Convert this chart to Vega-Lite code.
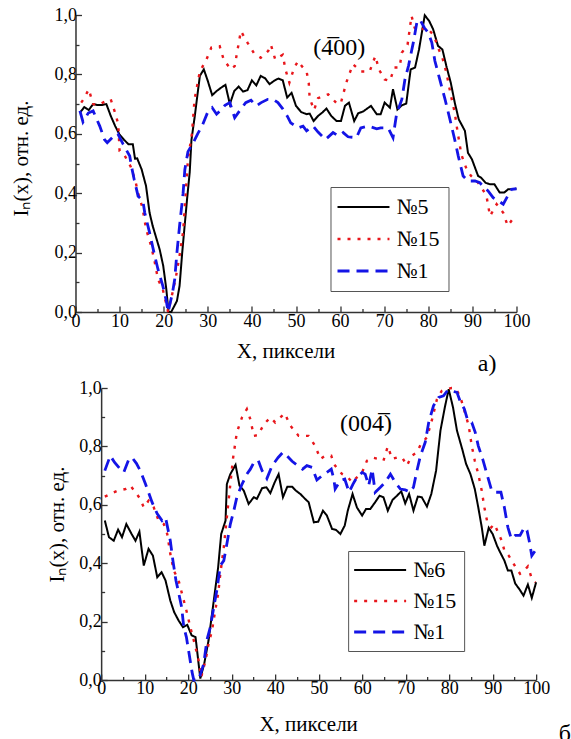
{
  "$schema": "https://vega.github.io/schema/vega-lite/v6.json",
  "padding": {"left": 10, "top": 6, "right": 0, "bottom": 0},
  "spacing": 3,
  "center": true,
  "background": "white",
  "config": {
    "font": "Liberation Serif",
    "style": {"guide-label": {"font": "Liberation Serif"}, "guide-title": {"font": "Liberation Serif"}}
  },
  "datasets": {
    "a": [
      {"s":"№5","x":1,"y":0.671},{"s":"№5","x":2,"y":0.69},{"s":"№5","x":3,"y":0.68},{"s":"№5","x":4,"y":0.70},{"s":"№5","x":5,"y":0.697},{"s":"№5","x":6,"y":0.697},{"s":"№5","x":7,"y":0.70},{"s":"№5","x":8,"y":0.66},{"s":"№5","x":9,"y":0.626},{"s":"№5","x":10,"y":0.597},{"s":"№5","x":11,"y":0.58},{"s":"№5","x":12,"y":0.565},{"s":"№5","x":13,"y":0.565},{"s":"№5","x":13.5,"y":0.516},{"s":"№5","x":14,"y":0.517},{"s":"№5","x":15,"y":0.48},{"s":"№5","x":16,"y":0.424},{"s":"№5","x":16.8,"y":0.334},{"s":"№5","x":17.5,"y":0.29},{"s":"№5","x":18.3,"y":0.25},{"s":"№5","x":19.1,"y":0.21},{"s":"№5","x":19.9,"y":0.155},{"s":"№5","x":20.6,"y":0.076},{"s":"№5","x":21.1,"y":0.0},{"s":"№5","x":21.7,"y":0.0},{"s":"№5","x":23,"y":0.037},{"s":"№5","x":23.6,"y":0.088},{"s":"№5","x":24.2,"y":0.2},{"s":"№5","x":25.3,"y":0.38},{"s":"№5","x":25.9,"y":0.47},{"s":"№5","x":26.3,"y":0.58},{"s":"№5","x":27,"y":0.654},{"s":"№5","x":28.2,"y":0.795},{"s":"№5","x":29.1,"y":0.817},{"s":"№5","x":30,"y":0.778},{"s":"№5","x":31,"y":0.73},{"s":"№5","x":32,"y":0.744},{"s":"№5","x":33,"y":0.755},{"s":"№5","x":34,"y":0.765},{"s":"№5","x":35,"y":0.70},{"s":"№5","x":36,"y":0.744},{"s":"№5","x":37,"y":0.759},{"s":"№5","x":38,"y":0.742},{"s":"№5","x":39,"y":0.747},{"s":"№5","x":40,"y":0.78},{"s":"№5","x":41,"y":0.763},{"s":"№5","x":42,"y":0.795},{"s":"№5","x":43,"y":0.787},{"s":"№5","x":44,"y":0.767},{"s":"№5","x":45,"y":0.778},{"s":"№5","x":46,"y":0.786},{"s":"№5","x":47,"y":0.78},{"s":"№5","x":48,"y":0.722},{"s":"№5","x":49,"y":0.738},{"s":"№5","x":50,"y":0.694},{"s":"№5","x":51.2,"y":0.673},{"s":"№5","x":52.4,"y":0.666},{"s":"№5","x":53.1,"y":0.668},{"s":"№5","x":54,"y":0.643},{"s":"№5","x":55,"y":0.66},{"s":"№5","x":56,"y":0.672},{"s":"№5","x":56.9,"y":0.685},{"s":"№5","x":58,"y":0.66},{"s":"№5","x":59.2,"y":0.643},{"s":"№5","x":60.2,"y":0.643},{"s":"№5","x":61.1,"y":0.694},{"s":"№5","x":62,"y":0.705},{"s":"№5","x":63.2,"y":0.643},{"s":"№5","x":64.1,"y":0.669},{"s":"№5","x":65.2,"y":0.675},{"s":"№5","x":67,"y":0.694},{"s":"№5","x":68.3,"y":0.666},{"s":"№5","x":69.2,"y":0.666},{"s":"№5","x":70.1,"y":0.705},{"s":"№5","x":71.3,"y":0.688},{"s":"№5","x":72,"y":0.75},{"s":"№5","x":73,"y":0.682},{"s":"№5","x":74,"y":0.696},{"s":"№5","x":75,"y":0.702},{"s":"№5","x":76,"y":0.817},{"s":"№5","x":77,"y":0.823},{"s":"№5","x":77.9,"y":0.884},{"s":"№5","x":79.2,"y":0.999},{"s":"№5","x":80.2,"y":0.98},{"s":"№5","x":81.1,"y":0.952},{"s":"№5","x":82.2,"y":0.896},{"s":"№5","x":83.2,"y":0.884},{"s":"№5","x":84.1,"y":0.828},{"s":"№5","x":85.1,"y":0.772},{"s":"№5","x":86,"y":0.705},{"s":"№5","x":86.9,"y":0.649},{"s":"№5","x":88.3,"y":0.61},{"s":"№5","x":89,"y":0.536},{"s":"№5","x":89.9,"y":0.514},{"s":"№5","x":91.3,"y":0.458},{"s":"№5","x":92,"y":0.452},{"s":"№5","x":93,"y":0.435},{"s":"№5","x":94,"y":0.43},{"s":"№5","x":95,"y":0.43},{"s":"№5","x":96.2,"y":0.402},{"s":"№5","x":97.2,"y":0.402},{"s":"№5","x":98.1,"y":0.413},{"s":"№5","x":100,"y":0.415},
      {"s":"№15","x":1.3,"y":0.705},{"s":"№15","x":2,"y":0.72},{"s":"№15","x":3,"y":0.75},{"s":"№15","x":4,"y":0.70},{"s":"№15","x":5,"y":0.696},{"s":"№15","x":6.2,"y":0.705},{"s":"№15","x":7,"y":0.71},{"s":"№15","x":8,"y":0.716},{"s":"№15","x":9,"y":0.67},{"s":"№15","x":9.7,"y":0.632},{"s":"№15","x":10,"y":0.542},{"s":"№15","x":11,"y":0.531},{"s":"№15","x":12.5,"y":0.49},{"s":"№15","x":13.6,"y":0.44},{"s":"№15","x":14.2,"y":0.40},{"s":"№15","x":15.2,"y":0.35},{"s":"№15","x":16,"y":0.28},{"s":"№15","x":17.2,"y":0.22},{"s":"№15","x":18,"y":0.166},{"s":"№15","x":18.7,"y":0.11},{"s":"№15","x":19.8,"y":0.076},{"s":"№15","x":21,"y":0.0},{"s":"№15","x":22,"y":0.065},{"s":"№15","x":22.8,"y":0.12},{"s":"№15","x":23.6,"y":0.19},{"s":"№15","x":24.4,"y":0.27},{"s":"№15","x":25,"y":0.4},{"s":"№15","x":25.5,"y":0.514},{"s":"№15","x":26.4,"y":0.6},{"s":"№15","x":27,"y":0.716},{"s":"№15","x":28.2,"y":0.81},{"s":"№15","x":29.7,"y":0.85},{"s":"№15","x":30.8,"y":0.89},{"s":"№15","x":32.7,"y":0.895},{"s":"№15","x":33.6,"y":0.85},{"s":"№15","x":35.2,"y":0.817},{"s":"№15","x":36.1,"y":0.828},{"s":"№15","x":37.5,"y":0.946},{"s":"№15","x":39,"y":0.907},{"s":"№15","x":40.6,"y":0.868},{"s":"№15","x":42,"y":0.856},{"s":"№15","x":43.7,"y":0.879},{"s":"№15","x":44.3,"y":0.90},{"s":"№15","x":45.3,"y":0.85},{"s":"№15","x":47,"y":0.866},{"s":"№15","x":47.6,"y":0.817},{"s":"№15","x":48.5,"y":0.772},{"s":"№15","x":49.6,"y":0.823},{"s":"№15","x":50.5,"y":0.845},{"s":"№15","x":51.3,"y":0.828},{"s":"№15","x":52.4,"y":0.81},{"s":"№15","x":52.9,"y":0.77},{"s":"№15","x":53.1,"y":0.72},{"s":"№15","x":54.1,"y":0.68},{"s":"№15","x":55,"y":0.72},{"s":"№15","x":57.3,"y":0.733},{"s":"№15","x":59.4,"y":0.70},{"s":"№15","x":60.2,"y":0.705},{"s":"№15","x":61.4,"y":0.772},{"s":"№15","x":62.9,"y":0.834},{"s":"№15","x":64.8,"y":0.81},{"s":"№15","x":66.7,"y":0.81},{"s":"№15","x":68,"y":0.862},{"s":"№15","x":68.8,"y":0.817},{"s":"№15","x":70.1,"y":0.783},{"s":"№15","x":71.3,"y":0.778},{"s":"№15","x":72.3,"y":0.823},{"s":"№15","x":73.5,"y":0.823},{"s":"№15","x":74,"y":0.873},{"s":"№15","x":75.3,"y":0.90},{"s":"№15","x":76.2,"y":0.997},{"s":"№15","x":76.9,"y":0.957},{"s":"№15","x":78.1,"y":0.946},{"s":"№15","x":79.1,"y":0.957},{"s":"№15","x":80,"y":0.952},{"s":"№15","x":81.3,"y":0.93},{"s":"№15","x":82.2,"y":0.89},{"s":"№15","x":83.2,"y":0.856},{"s":"№15","x":84.1,"y":0.806},{"s":"№15","x":85,"y":0.738},{"s":"№15","x":86,"y":0.671},{"s":"№15","x":86.6,"y":0.61},{"s":"№15","x":87.5,"y":0.53},{"s":"№15","x":88.7,"y":0.48},{"s":"№15","x":89.7,"y":0.458},{"s":"№15","x":91,"y":0.441},{"s":"№15","x":92.1,"y":0.419},{"s":"№15","x":93.2,"y":0.39},{"s":"№15","x":94,"y":0.323},{"s":"№15","x":95.5,"y":0.363},{"s":"№15","x":97,"y":0.334},{"s":"№15","x":98,"y":0.29},{"s":"№15","x":99.4,"y":0.318},{"s":"№15","x":100,"y":0.31},
      {"s":"№1","x":1,"y":0.677},{"s":"№1","x":1.7,"y":0.64},{"s":"№1","x":2.9,"y":0.67},{"s":"№1","x":4,"y":0.677},{"s":"№1","x":5.5,"y":0.626},{"s":"№1","x":6.6,"y":0.58},{"s":"№1","x":7.2,"y":0.57},{"s":"№1","x":8.5,"y":0.59},{"s":"№1","x":9.6,"y":0.60},{"s":"№1","x":10.8,"y":0.565},{"s":"№1","x":12.3,"y":0.525},{"s":"№1","x":12.7,"y":0.49},{"s":"№1","x":13.3,"y":0.447},{"s":"№1","x":14.2,"y":0.39},{"s":"№1","x":15.3,"y":0.374},{"s":"№1","x":15.7,"y":0.334},{"s":"№1","x":16.8,"y":0.267},{"s":"№1","x":17.8,"y":0.2},{"s":"№1","x":18.7,"y":0.144},{"s":"№1","x":19.8,"y":0.088},{"s":"№1","x":20.6,"y":0.037},{"s":"№1","x":21,"y":0.0},{"s":"№1","x":22,"y":0.065},{"s":"№1","x":22.5,"y":0.11},{"s":"№1","x":23,"y":0.2},{"s":"№1","x":23.6,"y":0.29},{"s":"№1","x":24.4,"y":0.40},{"s":"№1","x":24.8,"y":0.48},{"s":"№1","x":25.5,"y":0.54},{"s":"№1","x":26.7,"y":0.57},{"s":"№1","x":27.7,"y":0.60},{"s":"№1","x":28.7,"y":0.626},{"s":"№1","x":29.9,"y":0.67},{"s":"№1","x":31,"y":0.688},{"s":"№1","x":32,"y":0.666},{"s":"№1","x":33,"y":0.68},{"s":"№1","x":33.9,"y":0.696},{"s":"№1","x":35,"y":0.705},{"s":"№1","x":36.1,"y":0.654},{"s":"№1","x":37.2,"y":0.677},{"s":"№1","x":38.6,"y":0.705},{"s":"№1","x":39.8,"y":0.713},{"s":"№1","x":41,"y":0.694},{"s":"№1","x":42.1,"y":0.705},{"s":"№1","x":43.6,"y":0.716},{"s":"№1","x":44.8,"y":0.716},{"s":"№1","x":45.9,"y":0.705},{"s":"№1","x":47,"y":0.684},{"s":"№1","x":48,"y":0.66},{"s":"№1","x":48.8,"y":0.637},{"s":"№1","x":50.5,"y":0.62},{"s":"№1","x":51.6,"y":0.626},{"s":"№1","x":52.4,"y":0.61},{"s":"№1","x":53.9,"y":0.626},{"s":"№1","x":55,"y":0.606},{"s":"№1","x":56.7,"y":0.581},{"s":"№1","x":58.4,"y":0.604},{"s":"№1","x":59.6,"y":0.593},{"s":"№1","x":60.7,"y":0.604},{"s":"№1","x":61.8,"y":0.59},{"s":"№1","x":63.7,"y":0.587},{"s":"№1","x":64.7,"y":0.62},{"s":"№1","x":66.4,"y":0.626},{"s":"№1","x":68.3,"y":0.617},{"s":"№1","x":69.2,"y":0.62},{"s":"№1","x":70.9,"y":0.62},{"s":"№1","x":72,"y":0.587},{"s":"№1","x":72.8,"y":0.666},{"s":"№1","x":74,"y":0.716},{"s":"№1","x":74.7,"y":0.783},{"s":"№1","x":75.5,"y":0.828},{"s":"№1","x":76.6,"y":0.907},{"s":"№1","x":77.4,"y":0.974},{"s":"№1","x":78.1,"y":0.985},{"s":"№1","x":79.1,"y":0.957},{"s":"№1","x":80,"y":0.94},{"s":"№1","x":80.8,"y":0.907},{"s":"№1","x":81.5,"y":0.845},{"s":"№1","x":82.6,"y":0.783},{"s":"№1","x":83.8,"y":0.716},{"s":"№1","x":84.9,"y":0.649},{"s":"№1","x":86,"y":0.58},{"s":"№1","x":86.8,"y":0.525},{"s":"№1","x":87.9,"y":0.458},{"s":"№1","x":89,"y":0.441},{"s":"№1","x":90.6,"y":0.441},{"s":"№1","x":91.7,"y":0.435},{"s":"№1","x":92.4,"y":0.424},{"s":"№1","x":93.6,"y":0.407},{"s":"№1","x":94.7,"y":0.385},{"s":"№1","x":95.9,"y":0.374},{"s":"№1","x":97,"y":0.363},{"s":"№1","x":97.8,"y":0.385},{"s":"№1","x":98.9,"y":0.413},{"s":"№1","x":100,"y":0.415}
    ],
    "b": [
      {"s":"№6","x":0.85,"y":0.546},{"s":"№6","x":1.8,"y":0.489},{"s":"№6","x":2.9,"y":0.477},{"s":"№6","x":3.9,"y":0.515},{"s":"№6","x":4.8,"y":0.489},{"s":"№6","x":5.8,"y":0.534},{"s":"№6","x":7,"y":0.50},{"s":"№6","x":7.9,"y":0.477},{"s":"№6","x":8.8,"y":0.508},{"s":"№6","x":9.8,"y":0.392},{"s":"№6","x":10.9,"y":0.449},{"s":"№6","x":11.9,"y":0.426},{"s":"№6","x":12.9,"y":0.352},{"s":"№6","x":13.9,"y":0.369},{"s":"№6","x":14.8,"y":0.341},{"s":"№6","x":15.9,"y":0.272},{"s":"№6","x":16.8,"y":0.232},{"s":"№6","x":17.8,"y":0.204},{"s":"№6","x":18.8,"y":0.181},{"s":"№6","x":19.8,"y":0.189},{"s":"№6","x":20.8,"y":0.153},{"s":"№6","x":21.7,"y":0.147},{"s":"№6","x":22.8,"y":0.005},{"s":"№6","x":23.7,"y":0.056},{"s":"№6","x":24.7,"y":0.136},{"s":"№6","x":25.7,"y":0.25},{"s":"№6","x":26.9,"y":0.386},{"s":"№6","x":27.6,"y":0.50},{"s":"№6","x":28.6,"y":0.546},{"s":"№6","x":28.9,"y":0.671},{"s":"№6","x":29.7,"y":0.705},{"s":"№6","x":30.9,"y":0.737},{"s":"№6","x":31.8,"y":0.666},{"s":"№6","x":32.8,"y":0.648},{"s":"№6","x":33.9,"y":0.603},{"s":"№6","x":35.1,"y":0.626},{"s":"№6","x":35.8,"y":0.62},{"s":"№6","x":37,"y":0.657},{"s":"№6","x":38,"y":0.66},{"s":"№6","x":38.9,"y":0.64},{"s":"№6","x":39.9,"y":0.677},{"s":"№6","x":40.8,"y":0.705},{"s":"№6","x":41.8,"y":0.626},{"s":"№6","x":42.8,"y":0.662},{"s":"№6","x":43.9,"y":0.662},{"s":"№6","x":44.8,"y":0.648},{"s":"№6","x":45.8,"y":0.637},{"s":"№6","x":46.9,"y":0.62},{"s":"№6","x":47.7,"y":0.609},{"s":"№6","x":48.9,"y":0.54},{"s":"№6","x":49.9,"y":0.542},{"s":"№6","x":51,"y":0.58},{"s":"№6","x":51.9,"y":0.563},{"s":"№6","x":53.1,"y":0.517},{"s":"№6","x":54,"y":0.514},{"s":"№6","x":55,"y":0.50},{"s":"№6","x":56,"y":0.529},{"s":"№6","x":56.7,"y":0.58},{"s":"№6","x":57.8,"y":0.637},{"s":"№6","x":58.8,"y":0.591},{"s":"№6","x":60,"y":0.563},{"s":"№6","x":60.9,"y":0.586},{"s":"№6","x":61.9,"y":0.586},{"s":"№6","x":63,"y":0.609},{"s":"№6","x":64,"y":0.631},{"s":"№6","x":64.9,"y":0.626},{"s":"№6","x":65.9,"y":0.58},{"s":"№6","x":67,"y":0.617},{"s":"№6","x":68,"y":0.631},{"s":"№6","x":69,"y":0.646},{"s":"№6","x":69.9,"y":0.605},{"s":"№6","x":70.8,"y":0.637},{"s":"№6","x":71.8,"y":0.58},{"s":"№6","x":72.8,"y":0.628},{"s":"№6","x":73.7,"y":0.626},{"s":"№6","x":74.9,"y":0.594},{"s":"№6","x":75.9,"y":0.637},{"s":"№6","x":77,"y":0.717},{"s":"№6","x":78,"y":0.854},{"s":"№6","x":79,"y":0.933},{"s":"№6","x":79.9,"y":0.996},{"s":"№6","x":80.9,"y":0.933},{"s":"№6","x":81.8,"y":0.854},{"s":"№6","x":83,"y":0.791},{"s":"№6","x":83.9,"y":0.74},{"s":"№6","x":84.9,"y":0.705},{"s":"№6","x":85.9,"y":0.654},{"s":"№6","x":86.7,"y":0.591},{"s":"№6","x":87.5,"y":0.523},{"s":"№6","x":88.1,"y":0.46},{"s":"№6","x":89.1,"y":0.521},{"s":"№6","x":90,"y":0.50},{"s":"№6","x":91,"y":0.46},{"s":"№6","x":91.7,"y":0.438},{"s":"№6","x":92.7,"y":0.409},{"s":"№6","x":93.5,"y":0.375},{"s":"№6","x":94.3,"y":0.375},{"s":"№6","x":95.2,"y":0.33},{"s":"№6","x":96.1,"y":0.312},{"s":"№6","x":97.1,"y":0.289},{"s":"№6","x":98.1,"y":0.327},{"s":"№6","x":99,"y":0.281},{"s":"№6","x":100,"y":0.335},
      {"s":"№15","x":0.85,"y":0.628},{"s":"№15","x":2.5,"y":0.64},{"s":"№15","x":3.7,"y":0.648},{"s":"№15","x":5.6,"y":0.654},{"s":"№15","x":6.7,"y":0.666},{"s":"№15","x":7.9,"y":0.643},{"s":"№15","x":9,"y":0.62},{"s":"№15","x":9.8,"y":0.591},{"s":"№15","x":10.9,"y":0.614},{"s":"№15","x":12.1,"y":0.591},{"s":"№15","x":13.2,"y":0.546},{"s":"№15","x":14.4,"y":0.534},{"s":"№15","x":15.2,"y":0.50},{"s":"№15","x":15.9,"y":0.432},{"s":"№15","x":16.7,"y":0.375},{"s":"№15","x":17.8,"y":0.341},{"s":"№15","x":18.6,"y":0.295},{"s":"№15","x":19.6,"y":0.238},{"s":"№15","x":20.5,"y":0.181},{"s":"№15","x":21.5,"y":0.124},{"s":"№15","x":22.4,"y":0.067},{"s":"№15","x":23,"y":0.01},{"s":"№15","x":24,"y":0.067},{"s":"№15","x":24.7,"y":0.124},{"s":"№15","x":25.5,"y":0.17},{"s":"№15","x":26.1,"y":0.227},{"s":"№15","x":26.9,"y":0.295},{"s":"№15","x":27.4,"y":0.364},{"s":"№15","x":28.2,"y":0.455},{"s":"№15","x":28.9,"y":0.557},{"s":"№15","x":29.7,"y":0.671},{"s":"№15","x":30.3,"y":0.757},{"s":"№15","x":31.2,"y":0.848},{"s":"№15","x":32.4,"y":0.90},{"s":"№15","x":33.5,"y":0.928},{"s":"№15","x":34.3,"y":0.893},{"s":"№15","x":35.1,"y":0.836},{"s":"№15","x":36.1,"y":0.839},{"s":"№15","x":37.4,"y":0.876},{"s":"№15","x":38.9,"y":0.899},{"s":"№15","x":40,"y":0.882},{"s":"№15","x":41.2,"y":0.899},{"s":"№15","x":42.2,"y":0.913},{"s":"№15","x":43.5,"y":0.871},{"s":"№15","x":45.4,"y":0.836},{"s":"№15","x":47.7,"y":0.836},{"s":"№15","x":49.2,"y":0.802},{"s":"№15","x":50.4,"y":0.757},{"s":"№15","x":51.5,"y":0.768},{"s":"№15","x":52.9,"y":0.768},{"s":"№15","x":53.5,"y":0.74},{"s":"№15","x":54.4,"y":0.722},{"s":"№15","x":55.4,"y":0.705},{"s":"№15","x":56.7,"y":0.694},{"s":"№15","x":57.7,"y":0.677},{"s":"№15","x":58.8,"y":0.694},{"s":"№15","x":60,"y":0.711},{"s":"№15","x":61.1,"y":0.751},{"s":"№15","x":62.3,"y":0.762},{"s":"№15","x":63.8,"y":0.757},{"s":"№15","x":64.9,"y":0.751},{"s":"№15","x":65.9,"y":0.80},{"s":"№15","x":66.9,"y":0.757},{"s":"№15","x":68,"y":0.762},{"s":"№15","x":69.2,"y":0.762},{"s":"№15","x":70.3,"y":0.734},{"s":"№15","x":71.4,"y":0.768},{"s":"№15","x":72.6,"y":0.78},{"s":"№15","x":73.5,"y":0.808},{"s":"№15","x":74.9,"y":0.831},{"s":"№15","x":76,"y":0.888},{"s":"№15","x":77.2,"y":0.962},{"s":"№15","x":78.3,"y":0.99},{"s":"№15","x":79.5,"y":0.996},{"s":"№15","x":80.6,"y":1.0},{"s":"№15","x":81.4,"y":1.0},{"s":"№15","x":82.5,"y":0.973},{"s":"№15","x":83.3,"y":0.933},{"s":"№15","x":84.5,"y":0.871},{"s":"№15","x":85.2,"y":0.802},{"s":"№15","x":85.9,"y":0.751},{"s":"№15","x":86.7,"y":0.705},{"s":"№15","x":87.5,"y":0.648},{"s":"№15","x":88.1,"y":0.591},{"s":"№15","x":88.7,"y":0.546},{"s":"№15","x":89.7,"y":0.523},{"s":"№15","x":90.4,"y":0.534},{"s":"№15","x":91.4,"y":0.50},{"s":"№15","x":92.1,"y":0.477},{"s":"№15","x":92.7,"y":0.443},{"s":"№15","x":93.7,"y":0.426},{"s":"№15","x":94.4,"y":0.409},{"s":"№15","x":95.3,"y":0.386},{"s":"№15","x":96.3,"y":0.364},{"s":"№15","x":97.3,"y":0.375},{"s":"№15","x":98.1,"y":0.389},{"s":"№15","x":98.9,"y":0.352},{"s":"№15","x":99.8,"y":0.335},
      {"s":"№1","x":0.85,"y":0.717},{"s":"№1","x":2.1,"y":0.768},{"s":"№1","x":3.1,"y":0.745},{"s":"№1","x":4.4,"y":0.722},{"s":"№1","x":5.2,"y":0.711},{"s":"№1","x":6.4,"y":0.757},{"s":"№1","x":7.1,"y":0.762},{"s":"№1","x":8.1,"y":0.742},{"s":"№1","x":9,"y":0.717},{"s":"№1","x":10.2,"y":0.671},{"s":"№1","x":11.7,"y":0.609},{"s":"№1","x":12.9,"y":0.569},{"s":"№1","x":14,"y":0.546},{"s":"№1","x":14.8,"y":0.557},{"s":"№1","x":15.9,"y":0.477},{"s":"№1","x":16.5,"y":0.409},{"s":"№1","x":17.2,"y":0.341},{"s":"№1","x":17.7,"y":0.307},{"s":"№1","x":18.5,"y":0.25},{"s":"№1","x":19,"y":0.181},{"s":"№1","x":19.6,"y":0.147},{"s":"№1","x":20.1,"y":0.101},{"s":"№1","x":20.9,"y":0.027},{"s":"№1","x":21.3,"y":0},{"s":"№1","x":22.4,"y":0},{"s":"№1","x":23.6,"y":0.056},{"s":"№1","x":24.3,"y":0.136},{"s":"№1","x":25.1,"y":0.181},{"s":"№1","x":25.9,"y":0.25},{"s":"№1","x":26.6,"y":0.307},{"s":"№1","x":27.4,"y":0.392},{"s":"№1","x":28.2,"y":0.409},{"s":"№1","x":28.9,"y":0.466},{"s":"№1","x":29.7,"y":0.534},{"s":"№1","x":30.5,"y":0.58},{"s":"№1","x":31.2,"y":0.626},{"s":"№1","x":32.4,"y":0.671},{"s":"№1","x":33.5,"y":0.705},{"s":"№1","x":34.3,"y":0.722},{"s":"№1","x":35.1,"y":0.745},{"s":"№1","x":36.1,"y":0.753},{"s":"№1","x":37,"y":0.717},{"s":"№1","x":38.1,"y":0.69},{"s":"№1","x":39.3,"y":0.734},{"s":"№1","x":40.7,"y":0.762},{"s":"№1","x":41.8,"y":0.78},{"s":"№1","x":42.7,"y":0.768},{"s":"№1","x":43.9,"y":0.749},{"s":"№1","x":45.2,"y":0.734},{"s":"№1","x":46.3,"y":0.722},{"s":"№1","x":47.3,"y":0.734},{"s":"№1","x":48.5,"y":0.728},{"s":"№1","x":49.6,"y":0.685},{"s":"№1","x":50.8,"y":0.70},{"s":"№1","x":51.9,"y":0.711},{"s":"№1","x":52.9,"y":0.722},{"s":"№1","x":53.5,"y":0.688},{"s":"№1","x":53.8,"y":0.654},{"s":"№1","x":55,"y":0.683},{"s":"№1","x":56,"y":0.688},{"s":"№1","x":57,"y":0.643},{"s":"№1","x":57.9,"y":0.671},{"s":"№1","x":58.8,"y":0.694},{"s":"№1","x":60,"y":0.711},{"s":"№1","x":60.7,"y":0.705},{"s":"№1","x":61.5,"y":0.666},{"s":"№1","x":62.3,"y":0.722},{"s":"№1","x":63,"y":0.643},{"s":"№1","x":64.2,"y":0.66},{"s":"№1","x":65.3,"y":0.677},{"s":"№1","x":66.5,"y":0.705},{"s":"№1","x":67.6,"y":0.677},{"s":"№1","x":68.8,"y":0.654},{"s":"№1","x":69.9,"y":0.651},{"s":"№1","x":71,"y":0.643},{"s":"№1","x":71.8,"y":0.66},{"s":"№1","x":72.6,"y":0.717},{"s":"№1","x":73.4,"y":0.768},{"s":"№1","x":74.5,"y":0.814},{"s":"№1","x":75.3,"y":0.882},{"s":"№1","x":76.4,"y":0.939},{"s":"№1","x":77.6,"y":0.968},{"s":"№1","x":78.7,"y":0.973},{"s":"№1","x":79.7,"y":0.993},{"s":"№1","x":80.6,"y":0.99},{"s":"№1","x":81.8,"y":0.985},{"s":"№1","x":82.5,"y":0.956},{"s":"№1","x":83.5,"y":0.928},{"s":"№1","x":84.3,"y":0.888},{"s":"№1","x":85.2,"y":0.882},{"s":"№1","x":86,"y":0.848},{"s":"№1","x":86.7,"y":0.802},{"s":"№1","x":87.7,"y":0.757},{"s":"№1","x":88.7,"y":0.705},{"s":"№1","x":89.8,"y":0.648},{"s":"№1","x":90.7,"y":0.643},{"s":"№1","x":91.9,"y":0.643},{"s":"№1","x":92.7,"y":0.591},{"s":"№1","x":93.5,"y":0.523},{"s":"№1","x":94.3,"y":0.483},{"s":"№1","x":95.2,"y":0.495},{"s":"№1","x":96.3,"y":0.495},{"s":"№1","x":97.3,"y":0.523},{"s":"№1","x":97.9,"y":0.512},{"s":"№1","x":98.4,"y":0.477},{"s":"№1","x":99,"y":0.426},{"s":"№1","x":99.8,"y":0.443}
    ],
    "ta": [{"x": 59.8, "y": 0.89, "t": "(4̅00)", "al": "center"}, {"x": 105.6, "y": -0.175, "t": "a)⠀⠀⠀⠀⠀⠀", "al": "left"}],
    "tb": [{"x": 60.9, "y": 0.876, "t": "(004̅)"}, {"x": 107.5, "y": -0.184, "t": "б)"}]
  },
  "resolve": {"scale": {"color": "independent", "strokeDash": "independent", "strokeWidth": "independent"}},
  "vconcat": [
    {
      "width": 441, "height": 297,
      "view": {"stroke": null},
      "encoding": {
        "x": {"field": "x", "type": "quantitative", "scale": {"domain": [0, 100]},
              "axis": {"title": "X, пиксели", "values": [0,5,10,15,20,25,30,35,40,45,50,55,60,65,70,75,80,85,90,95,100],
                       "labelExpr": "datum.value % 10 === 0 ? datum.label : ''",
                       "tickSize": {"condition": {"test": "datum.value % 10 === 0", "value": -6}, "value": -3.5},
                       "labelFont": "Liberation Serif", "labelFontSize": 18, "labelColor": "#000", "titleFont": "Liberation Serif", "titleFontSize": 21, "titleFontWeight": "normal", "titleColor": "#000",
                       "domainColor": "#333", "domainWidth": 1.5, "tickColor": "#333", "tickWidth": 1.3, "grid": false, "labelFlush": false, "labelOverlap": false, "labelBound": false,
                       "labelPadding": 6, "titlePadding": 8, "titleX": 210}},
        "y": {"field": "y", "type": "quantitative", "scale": {"domain": [0, 1]},
              "axis": {"title": "Iₙ(x), отн. ед.", "values": [0,0.1,0.2,0.3,0.4,0.5,0.6,0.7,0.8,0.9,1],
                       "labelExpr": "round(datum.value*10) % 2 === 0 ? replace(format(datum.value, '.1f'), '.', ',') : ''",
                       "tickSize": {"condition": {"test": "round(datum.value*10) % 2 === 0", "value": -6}, "value": -3.5},
                       "labelFont": "Liberation Serif", "labelFontSize": 18, "labelColor": "#000", "titleFont": "Liberation Serif", "titleFontSize": 21, "titleFontWeight": "normal", "titleColor": "#000",
                       "domainColor": "#333", "domainWidth": 1.5, "tickColor": "#333", "tickWidth": 1.3, "grid": false, "labelFlush": false, "labelOverlap": false, "labelBound": false,
                       "labelPadding": 5, "titlePadding": 22, "titleY": 143}}
      },
      "layer": [
        {
          "data": {"name": "a"},
          "mark": {"type": "line", "strokeCap": "butt"},
          "encoding": {
            "color": {"field": "s", "type": "nominal", "scale": {"domain": ["№5", "№15", "№1"], "range": ["#000000", "#e8161b", "#1414e6"]},
                      "legend": {"orient": "none", "legendX": 255, "legendY": 172, "title": null, "symbolType": "M-3,0H3", "symbolSize": 300, "symbolOffset": 13, "symbolStrokeWidth": 2.6, "labelFont": "Liberation Serif", "labelFontSize": 22, "labelColor": "#000", "labelOffset": 22, "strokeColor": "#555", "fillColor": "#fff", "padding": 9, "rowPadding": 10}},
            "strokeDash": {"field": "s", "type": "nominal", "scale": {"domain": ["№5", "№15", "№1"], "range": [[1, 0], [3, 7], [12, 7]]},
                      "legend": {"orient": "none", "legendX": 255, "legendY": 172, "title": null, "symbolType": "M-3,0H3", "symbolSize": 300, "symbolOffset": 13, "symbolStrokeWidth": 2.6, "labelFont": "Liberation Serif", "labelFontSize": 22, "labelColor": "#000", "labelOffset": 22, "strokeColor": "#555", "fillColor": "#fff", "padding": 9, "rowPadding": 10}},
            "strokeWidth": {"field": "s", "type": "ordinal", "scale": {"domain": ["№5", "№15", "№1"], "range": [2, 2.8, 2.6]}, "legend": null}
          }
        },
        {
          "data": {"name": "ta"},
          "mark": {"type": "text", "fontSize": 24, "font": "Liberation Serif", "color": "#000"},
          "encoding": {"text": {"field": "t"}, "align": {"field": "al", "type": "nominal", "scale": null}}
        }
      ]
    },
    {
      "width": 435, "height": 292,
      "view": {"stroke": null},
      "encoding": {
        "x": {"field": "x", "type": "quantitative", "scale": {"domain": [0, 100]},
              "axis": {"title": "X, пиксели", "values": [0,5,10,15,20,25,30,35,40,45,50,55,60,65,70,75,80,85,90,95,100],
                       "labelExpr": "datum.value % 10 === 0 ? datum.label : ''",
                       "tickSize": {"condition": {"test": "datum.value % 10 === 0", "value": -6}, "value": -3.5},
                       "labelFont": "Liberation Serif", "labelFontSize": 18, "labelColor": "#000", "titleFont": "Liberation Serif", "titleFontSize": 21, "titleFontWeight": "normal", "titleColor": "#000",
                       "domainColor": "#333", "domainWidth": 1.5, "tickColor": "#333", "tickWidth": 1.3, "grid": false, "labelFlush": false, "labelOverlap": false, "labelBound": false,
                       "labelPadding": 5, "titlePadding": 14, "titleX": 207}},
        "y": {"field": "y", "type": "quantitative", "scale": {"domain": [0, 1]},
              "axis": {"title": ["", "Iₙ(x), отн. ед."], "titleLineHeight": 32, "values": [0,0.1,0.2,0.3,0.4,0.5,0.6,0.7,0.8,0.9,1],
                       "labelExpr": "round(datum.value*10) % 2 === 0 ? replace(format(datum.value, '.1f'), '.', ',') : ''",
                       "tickSize": {"condition": {"test": "round(datum.value*10) % 2 === 0", "value": -6}, "value": -3.5},
                       "labelFont": "Liberation Serif", "labelFontSize": 18, "labelColor": "#000", "titleFont": "Liberation Serif", "titleFontSize": 21, "titleFontWeight": "normal", "titleColor": "#000",
                       "domainColor": "#333", "domainWidth": 1.5, "tickColor": "#333", "tickWidth": 1.3, "grid": false, "labelFlush": false, "labelOverlap": false, "labelBound": false,
                       "labelPadding": 6, "titlePadding": 11, "titleY": 136}}
      },
      "layer": [
        {
          "data": {"name": "b"},
          "mark": {"type": "line", "strokeCap": "butt"},
          "encoding": {
            "color": {"field": "s", "type": "nominal", "scale": {"domain": ["№6", "№15", "№1"], "range": ["#000000", "#e8161b", "#1414e6"]},
                      "legend": {"orient": "none", "legendX": 247, "legendY": 163, "title": null, "symbolType": "M-3,0H3", "symbolSize": 300, "symbolOffset": 13, "symbolStrokeWidth": 2.6, "labelFont": "Liberation Serif", "labelFontSize": 22, "labelColor": "#000", "labelOffset": 22, "strokeColor": "#555", "fillColor": "#fff", "padding": 8, "rowPadding": 9}},
            "strokeDash": {"field": "s", "type": "nominal", "scale": {"domain": ["№6", "№15", "№1"], "range": [[1, 0], [3, 7], [12, 7]]},
                      "legend": {"orient": "none", "legendX": 247, "legendY": 163, "title": null, "symbolType": "M-3,0H3", "symbolSize": 300, "symbolOffset": 13, "symbolStrokeWidth": 2.6, "labelFont": "Liberation Serif", "labelFontSize": 22, "labelColor": "#000", "labelOffset": 22, "strokeColor": "#555", "fillColor": "#fff", "padding": 8, "rowPadding": 9}},
            "strokeWidth": {"field": "s", "type": "ordinal", "scale": {"domain": ["№6", "№15", "№1"], "range": [2, 2.8, 2.6]}, "legend": null}
          }
        },
        {
          "data": {"name": "tb"},
          "mark": {"type": "text", "fontSize": 24, "font": "Liberation Serif", "align": "center", "color": "#000"},
          "encoding": {"text": {"field": "t"}}
        }
      ]
    }
  ]
}
